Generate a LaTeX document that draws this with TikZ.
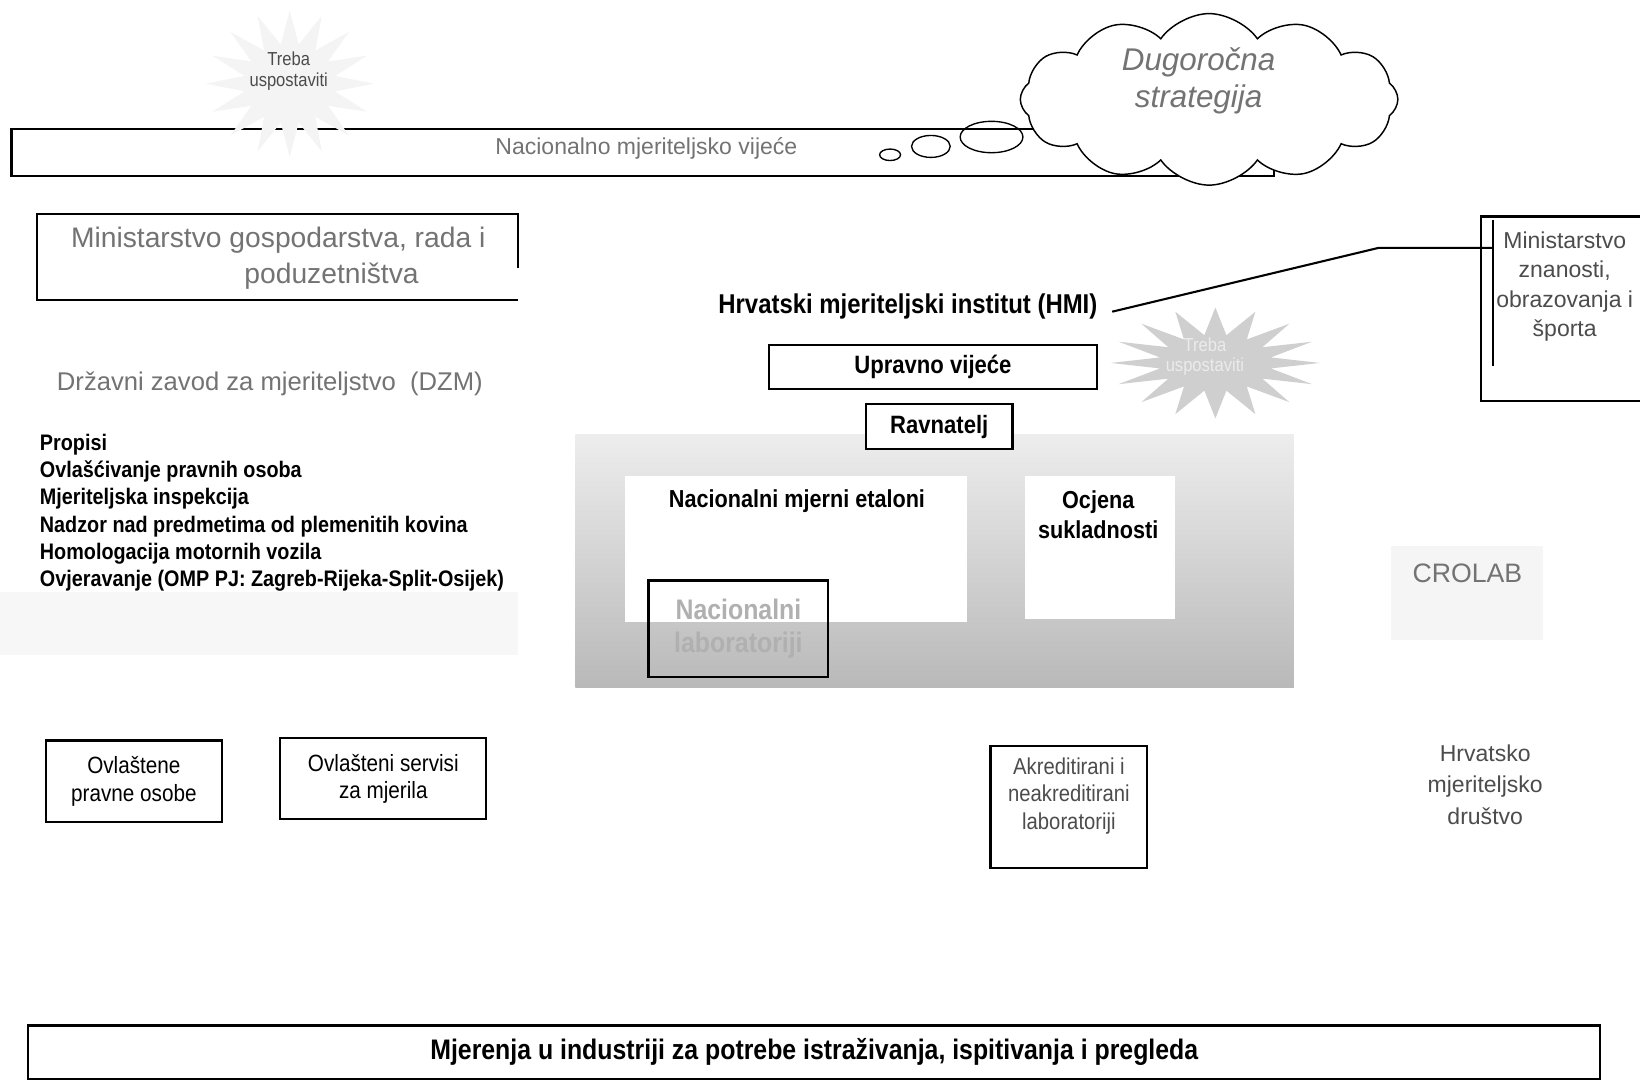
\documentclass[tikz,border=0pt]{standalone}
\usepackage{fontspec}
\setmainfont{Liberation Sans}
\newfontfamily\nar[FakeStretch=0.88]{Liberation Sans}
\usetikzlibrary{shapes.geometric,shapes.symbols}
\newcommand\fsz[2]{\fontsize{#1}{#2}\selectfont}
\definecolor{gtext}{gray}{0.45}
\definecolor{dtext}{gray}{0.3}
\begin{document}
\begin{tikzpicture}[x=1pt,y=-1pt,
  box/.style={draw=black, line width=2pt, inner sep=0pt},
  bnar/.style={font=\nar\bfseries\fsz{21.5}{26}, inner sep=0pt},
  bubble/.style={ellipse, draw=black, line width=1.3pt, inner sep=0pt},
  lbl/.style={inner sep=0pt, align=center}
]
\useasboundingbox (0,0) rectangle (1568,1033);
\fill[white] (0,0) rectangle (1568,1033);

% ---------- National council bar ----------
\node[box, minimum width=1207pt, minimum height=45pt, anchor=north west] (nmv) at (10,122) {};
\node[lbl, font=\fsz{22}{26}, text=gtext] (nmvt) at (618,142) {Nacionalno mjeriteljsko vije\'ce};

% faint star top-left
\fill[gray!9] plot[samples=33, domain=0:32, variable=\k]
  ({277 + (62+18*cos(180*\k))*cos(11.25*\k)}, {80 + (54+16*cos(180*\k))*sin(11.25*\k)}) -- cycle;
\node[lbl, font=\nar\fsz{18}{20}, text=dtext] (s1t) at (276,68) {Treba\\uspostaviti};

% thought bubbles and cloud
\node[bubble, minimum width=20pt, minimum height=11pt] (b1) at (851,148) {};
\node[bubble, minimum width=37pt, minimum height=21pt] (b2) at (890,140) {};
\node[bubble, minimum width=60pt, minimum height=30pt] (b3) at (948,131) {};
\node[cloud, draw=black, fill=white, line width=1.4pt, cloud puffs=12, cloud puff arc=110,
      aspect=2.2, minimum width=361pt, minimum height=164pt, inner sep=0pt] (cloud) at (1156,95) {};
\node[lbl, font=\itshape\fsz{30}{35}, text=gtext] (cloudt) at (1146,77) {Dugoro\v{c}na\\strategija};

% ---------- Left column ----------
\draw[line width=2pt] (495,256) -- (495,205) -- (35,205) -- (35,287) -- (495,287);
\node[lbl, font=\fsz{27}{30}, text=gtext] (mg1) at (266,230) {Ministarstvo gospodarstva, rada i};
\node[lbl, font=\fsz{27}{30}, text=gtext] (mg2) at (317,264) {poduzetni\v{s}tva};

\node[lbl, font=\fsz{24.5}{28}, text=gtext] (dzm) at (258,367) {Dr\v{z}avni zavod za mjeriteljstvo\ \ (DZM)};

\fill[gray!6] (0,566) rectangle (495,626);
\node[bnar, align=left, anchor=north west] (list) at (38,415)
  {Propisi\\Ovla\v{s}\'civanje pravnih osoba\\Mjeriteljska inspekcija\\Nadzor nad predmetima od plemenitih kovina\\Homologacija motornih vozila\\Ovjeravanje (OMP PJ: Zagreb-Rijeka-Split-Osijek)};

% ---------- HMI block ----------
\shade[top color=gray!14, bottom color=gray!55] (550,415) rectangle (1237,657);
\fill[white] (598,455) rectangle (925,595);
\fill[white] (980,455) rectangle (1123,592);

\node[lbl, font=\nar\bfseries\fsz{26}{30}] (hmi) at (868,293) {Hrvatski mjeriteljski institut (HMI)};

% star right
\fill[gray!38] plot[samples=33, domain=0:32, variable=\k]
  ({1162 + (77+23*cos(180*\k))*cos(11.25*\k)}, {347 + (40+13*cos(180*\k))*sin(11.25*\k)}) -- cycle;
\node[lbl, font=\nar\fsz{18}{20}, text=white!92!black] (s2t) at (1152,341) {Treba\\uspostaviti};

\node[box, fill=white, minimum width=314pt, minimum height=42pt, font=\nar\bfseries\fsz{24}{28}] (uv) at (892,351) {Upravno vije\'ce};
\node[box, fill=white, minimum width=140pt, minimum height=43pt, font=\nar\bfseries\fsz{24}{28}] (rav) at (898,408) {Ravnatelj};

\node[lbl, font=\nar\bfseries\fsz{23.5}{28}] (nme) at (762,479) {Nacionalni mjerni etaloni};
\node[lbl, font=\nar\bfseries\fsz{23.5}{29}] (ocj) at (1050,492) {Ocjena\\sukladnosti};
\node[box, minimum width=172pt, minimum height=92pt, font=\nar\bfseries\fsz{27}{32}, text=gray!62, align=center] (nlab) at (706,601) {Nacionalni\\laboratoriji};

% ---------- Right column ----------
\node[box, minimum width=184pt, minimum height=176pt] (mzo) at (1508,295) {};
\draw[line width=2pt] (1427,210) -- (1427,350);
\node[lbl, font=\fsz{22}{28}, text=dtext] (mzot) at (1496,274) {Ministarstvo\\znanosti,\\obrazovanja i\\\v{s}porta};
\coordinate (bend) at (1318,237);
\draw[line width=2pt] ([xshift=14pt,yshift=-5pt]hmi.east) -- (bend) -- (bend -| 1427,0);

\fill[gray!8] (1330,522) rectangle (1475,612);
\node[lbl, font=\fsz{25.5}{28}, text=gtext] (crolab) at (1403,548) {CROLAB};

\node[lbl, font=\fsz{22}{30}, text=dtext] (hmd) at (1420,750) {Hrvatsko\\mjeriteljsko\\dru\v{s}tvo};

% ---------- Bottom boxes ----------
\node[box, minimum width=168pt, minimum height=78pt, font=\nar\fsz{22.5}{26}, align=center] (opo) at (128,747) {Ovla\v{s}tene\\pravne osobe};
\node[box, minimum width=197pt, minimum height=77pt, font=\nar\fsz{22.5}{26}, align=center] (osm) at (366.5,744.5) {Ovla\v{s}teni servisi\\za mjerila};
\node[box, minimum width=150pt, minimum height=117pt] (akl) at (1022,771.5) {};
\node[lbl, font=\nar\fsz{22}{26}, text=dtext] (aklt) at (1022,761) {Akreditirani i\\neakreditirani\\laboratoriji};

\node[box, minimum width=1503pt, minimum height=51pt, font=\nar\bfseries\fsz{27}{30}] (mjer) at (778.5,1006) {Mjerenja u industriji za potrebe istra\v{z}ivanja, ispitivanja i pregleda};
\end{tikzpicture}
\end{document}
